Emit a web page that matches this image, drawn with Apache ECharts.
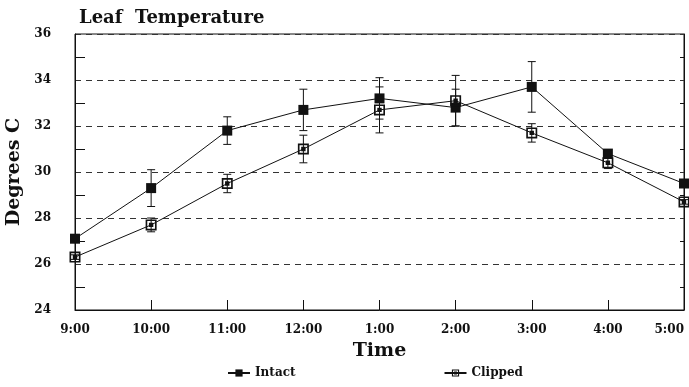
<!DOCTYPE html>
<html>
<head>
<meta charset="utf-8">
<script src="https://cdn.jsdelivr.net/npm/echarts@6/dist/echarts.min.js"></script>
<style>
  html, body { margin: 0; padding: 0; background: #fff; }
  #chart { width: 689px; height: 387px; }
</style>
</head>
<body>
<div id="chart"></div>
<script>
const times = ['9:00', '10:00', '11:00', '12:00', '1:00', '2:00', '3:00', '4:00', '5:00'];
const intact = [27.1, 29.3, 31.8, 32.7, 33.2, 32.8, 33.7, 30.8, 29.5];
const intactErr = [0.15, 0.8, 0.6, 0.9, 0.9, 0.8, 1.1, 0.15, 0.1];
const clipped = [26.3, 27.7, 29.5, 31.0, 32.7, 33.1, 31.7, 30.4, 28.7];
const clippedErr = [0.1, 0.3, 0.4, 0.6, 1.0, 1.1, 0.4, 0.25, 0.1];

const FONT = 'DejaVu Serif';
const INK = '#111';
// open square with a dot in the middle
const DOT_SQUARE = 'path://M0,0H10V10H0Z M1.5,1.5V8.5H8.5V1.5Z M3,3H7V7H3Z';

function errRows(vals, errs) {
    return vals.map((v, i) => [i, v - errs[i], v + errs[i]]);
}

function renderErr(params, api) {
    const lo = api.coord([api.value(0), api.value(1)]);
    const hi = api.coord([api.value(0), api.value(2)]);
    const w = 4;
    const style = { stroke: INK, lineWidth: 1 };
    return {
        type: 'group',
        children: [
            { type: 'line', shape: { x1: lo[0], y1: lo[1], x2: hi[0], y2: hi[1] }, style },
            { type: 'line', shape: { x1: hi[0] - w, y1: hi[1], x2: hi[0] + w, y2: hi[1] }, style },
            { type: 'line', shape: { x1: lo[0] - w, y1: lo[1], x2: lo[0] + w, y2: lo[1] }, style }
        ]
    };
}

const chart = echarts.init(document.getElementById('chart'));

chart.setOption({
    backgroundColor: '#fff',
    animation: false,
    title: {
        text: 'Leaf  Temperature',
        left: 74,
        top: 4,
        textStyle: { fontFamily: FONT, fontWeight: 'bold', fontSize: 18, color: INK }
    },
    grid: {
        left: 75,
        right: 5,
        top: 34,
        bottom: 77,
        outerBoundsMode: 'none',
        containLabel: false,
        show: true,
        borderColor: INK,
        borderWidth: 1
    },
    legend: {
        bottom: 3,
        left: 222,
        itemGap: 148,
        itemWidth: 22,
        itemHeight: 9,
        data: ['Intact', 'Clipped'],
        textStyle: { fontFamily: FONT, fontWeight: 'bold', fontSize: 12, color: INK }
    },
    xAxis: {
        type: 'category',
        data: times,
        boundaryGap: false,
        name: 'Time',
        nameLocation: 'middle',
        nameGap: 32,
        nameMoveOverlap: false,
        nameTextStyle: { fontFamily: FONT, fontWeight: 'bold', fontSize: 19, color: INK },
        axisLine: { lineStyle: { color: INK } },
        axisTick: { inside: true, length: 10, lineStyle: { color: INK } },
        axisLabel: {
            fontFamily: FONT, fontWeight: 'bold', fontSize: 12, color: INK, margin: 14,
            alignMaxLabel: 'right'
        },
        splitLine: { show: false }
    },
    yAxis: [{
        type: 'value',
        min: 24,
        max: 36,
        interval: 2,
        name: 'Degrees C',
        nameLocation: 'middle',
        nameGap: 51,
        nameMoveOverlap: false,
        nameTextStyle: { fontFamily: FONT, fontWeight: 'bold', fontSize: 19, color: INK },
        axisLine: { show: true, lineStyle: { color: INK } },
        axisTick: { inside: true, length: 10, lineStyle: { color: INK } },
        minorTick: { show: true, splitNumber: 2, length: 10, lineStyle: { color: INK } },
        axisLabel: { fontFamily: FONT, fontWeight: 'bold', fontSize: 12, color: INK, margin: 24 },
        splitLine: { show: true, lineStyle: { color: '#333', type: [6, 5], width: 1 } }
    }, {
        type: 'value',
        position: 'right',
        min: 24,
        max: 36,
        interval: 2,
        axisLine: { show: true, lineStyle: { color: INK } },
        axisTick: { inside: true, length: 6, lineStyle: { color: INK } },
        minorTick: { show: true, splitNumber: 2, length: 4, lineStyle: { color: INK } },
        axisLabel: { show: false },
        splitLine: { show: false }
    }],
    series: [{
        name: 'Intact',
        type: 'line',
        data: intact,
        symbol: 'rect',
        symbolSize: 10,
        itemStyle: { color: INK },
        lineStyle: { color: INK, width: 1 },
        z: 3
    }, {
        name: 'Clipped',
        type: 'line',
        data: clipped,
        symbol: DOT_SQUARE,
        symbolSize: 11,
        itemStyle: { color: INK },
        lineStyle: { color: INK, width: 1 },
        z: 3
    }, {
        name: 'IntactErr',
        type: 'custom',
        renderItem: renderErr,
        data: errRows(intact, intactErr),
        z: 2
    }, {
        name: 'ClippedErr',
        type: 'custom',
        renderItem: renderErr,
        data: errRows(clipped, clippedErr),
        z: 2
    }]
});
</script>
</body>
</html>
